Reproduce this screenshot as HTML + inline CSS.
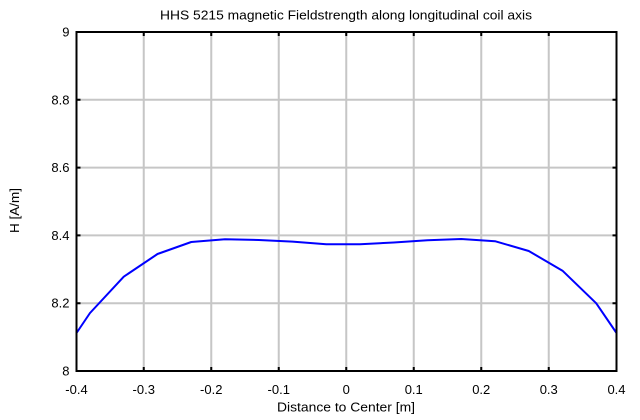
<!DOCTYPE html>
<html><head><meta charset="utf-8"><style>
html,body{margin:0;padding:0;background:#fff;}
svg{display:block;}
text{font-family:"Liberation Sans",Arial,sans-serif;fill:#000;}
</style></head><body>
<svg width="640" height="420" viewBox="0 0 640 420" xmlns="http://www.w3.org/2000/svg">
<rect width="640" height="420" fill="#fff"/>
<g stroke="#c6c6c6" stroke-width="2">
<line x1="143.75" y1="32" x2="143.75" y2="371"/>
<line x1="211.25" y1="32" x2="211.25" y2="371"/>
<line x1="278.75" y1="32" x2="278.75" y2="371"/>
<line x1="346.25" y1="32" x2="346.25" y2="371"/>
<line x1="413.75" y1="32" x2="413.75" y2="371"/>
<line x1="481.25" y1="32" x2="481.25" y2="371"/>
<line x1="548.75" y1="32" x2="548.75" y2="371"/>
<line x1="76.5" y1="99.8" x2="616.5" y2="99.8"/>
<line x1="76.5" y1="167.6" x2="616.5" y2="167.6"/>
<line x1="76.5" y1="235.4" x2="616.5" y2="235.4"/>
<line x1="76.5" y1="303.2" x2="616.5" y2="303.2"/>
</g>
<polyline fill="none" stroke="#0000ff" stroke-width="2" stroke-linejoin="round" points="76.5,333 90,313 123.75,276.7 157.5,254 191.25,242 225,239.2 258.75,240 292.5,241.6 326.25,244.3 360,244.3 393.75,242.5 427.5,240.3 461.25,239 495,241.2 528.75,251 562.5,270.7 596.25,303.3 616.5,333"/>
<g stroke="#000" stroke-width="2">
<rect x="76.5" y="32" width="540" height="339" fill="none"/>
<path d="M143.75 32v4M211.25 32v4M278.75 32v4M346.25 32v4M413.75 32v4M481.25 32v4M548.75 32v4
M143.75 371v-4M211.25 371v-4M278.75 371v-4M346.25 371v-4M413.75 371v-4M481.25 371v-4M548.75 371v-4
M76.5 99.8h4M76.5 167.6h4M76.5 235.4h4M76.5 303.2h4
M616.5 99.8h-4M616.5 167.6h-4M616.5 235.4h-4M616.5 303.2h-4"/>
</g>
<text x="160" y="19.5" font-size="13" textLength="372" lengthAdjust="spacingAndGlyphs">HHS 5215 magnetic Fieldstrength along longitudinal coil axis</text>
<g font-size="13" text-anchor="end">
<text x="69.5" y="36.5">9</text>
<text x="69.5" y="104.3">8.8</text>
<text x="69.5" y="172.1">8.6</text>
<text x="69.5" y="239.9">8.4</text>
<text x="69.5" y="307.7">8.2</text>
<text x="69.5" y="375.5">8</text>
</g>
<g font-size="13" text-anchor="middle">
<text x="76.5" y="394">-0.4</text>
<text x="143.75" y="394">-0.3</text>
<text x="211.25" y="394">-0.2</text>
<text x="278.75" y="394">-0.1</text>
<text x="346.25" y="394">0</text>
<text x="413.75" y="394">0.1</text>
<text x="481.25" y="394">0.2</text>
<text x="548.75" y="394">0.3</text>
<text x="616.5" y="394">0.4</text>
</g>
<text x="277" y="411.5" font-size="13" textLength="138" lengthAdjust="spacingAndGlyphs">Distance to Center [m]</text>
<text x="0" y="0" font-size="13" textLength="45" lengthAdjust="spacingAndGlyphs" transform="translate(19 233) rotate(-90)">H [A/m]</text>
</svg>
</body></html>
